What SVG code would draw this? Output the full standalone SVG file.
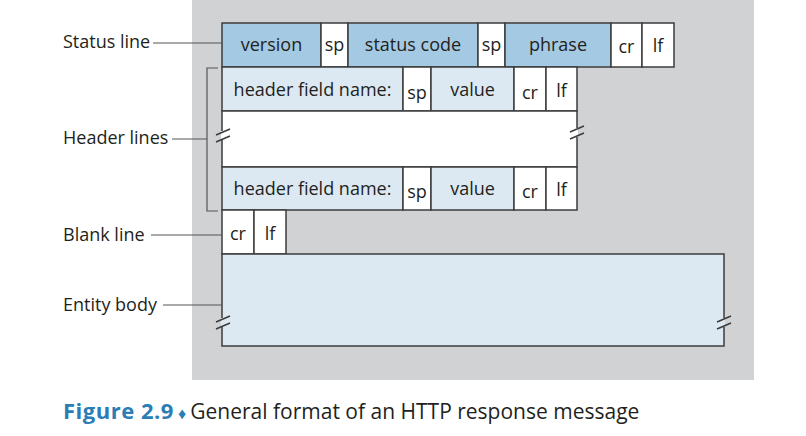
<svg xmlns="http://www.w3.org/2000/svg" width="806" height="436" viewBox="0 0 806 436">
<style>
  .cell { stroke: #3c3c3c; stroke-width: 1.5; }
  .dark { fill: #a3c9e3; }
  .light { fill: #dce9f3; }
  .white { fill: #ffffff; }
  .t { font-family: "Open Sans", "Liberation Sans", sans-serif; font-size: 18px; fill: #231f20; text-anchor: middle; }
  .lbl { font-family: "Open Sans", "Liberation Sans", sans-serif; font-size: 18px; fill: #231f20; }
  .conn { stroke: #555555; stroke-width: 1.2; fill: none; }
  .brk { stroke: #3c3c3c; stroke-width: 1.5; fill: none; }
  .cap { font-family: "Open Sans", "Liberation Sans", sans-serif; font-size: 21px; fill: #231f20; }
</style>
<rect x="0" y="0" width="806" height="436" fill="#ffffff"/>
<rect x="192" y="0" width="562" height="380" fill="#d1d2d4"/>

<g id="status-line">
  <rect class="cell dark" x="222" y="23" width="99" height="44"/>
  <rect class="cell white" x="321" y="23" width="27" height="44"/>
  <rect class="cell dark" x="348" y="23" width="130" height="44"/>
  <rect class="cell white" x="478" y="23" width="27" height="44"/>
  <rect class="cell dark" x="505" y="23" width="106" height="44"/>
  <rect class="cell white" x="611" y="23" width="31" height="44"/>
  <rect class="cell white" x="642" y="23" width="32" height="44"/>
  <text class="t" x="271.5" y="51">version</text>
  <text class="t" x="334.5" y="51">sp</text>
  <text class="t" x="413" y="51">status code</text>
  <text class="t" x="491.5" y="51">sp</text>
  <text class="t" x="558" y="51">phrase</text>
  <text class="t" x="626.5" y="53">cr</text>
  <text class="t" x="658" y="52">lf</text>
</g>

<g id="header-line-1">
  <rect class="cell light" x="222" y="67" width="181" height="44"/>
  <rect class="cell white" x="403" y="67" width="28" height="44"/>
  <rect class="cell light" x="431" y="67" width="83" height="44"/>
  <rect class="cell white" x="514" y="67" width="32" height="44"/>
  <rect class="cell white" x="546" y="67" width="31" height="44"/>
  <text class="t" x="312.5" y="96">header field name:</text>
  <text class="t" x="417" y="99">sp</text>
  <text class="t" x="472.5" y="96">value</text>
  <text class="t" x="530" y="99">cr</text>
  <text class="t" x="561.5" y="97">lf</text>
</g>

<g id="header-gap">
  <rect class="cell white" x="222" y="111" width="355" height="56"/>
</g>

<g id="header-line-2">
  <rect class="cell light" x="222" y="167" width="181" height="43"/>
  <rect class="cell white" x="403" y="167" width="28" height="43"/>
  <rect class="cell light" x="431" y="167" width="83" height="43"/>
  <rect class="cell white" x="514" y="167" width="32" height="43"/>
  <rect class="cell white" x="546" y="167" width="31" height="43"/>
  <text class="t" x="312.5" y="195">header field name:</text>
  <text class="t" x="417" y="198">sp</text>
  <text class="t" x="472.5" y="195">value</text>
  <text class="t" x="530" y="198">cr</text>
  <text class="t" x="561.5" y="196">lf</text>
</g>

<g id="blank-line">
  <rect class="cell white" x="222" y="210" width="32" height="44"/>
  <rect class="cell white" x="254" y="210" width="32" height="44"/>
  <text class="t" x="238" y="240">cr</text>
  <text class="t" x="270" y="240">lf</text>
</g>

<g id="entity-body">
  <rect class="cell light" x="222" y="254" width="502" height="92"/>
</g>

<g id="breaks">
  <line x1="222" y1="131" x2="222" y2="140" stroke="#ffffff" stroke-width="2"/>
  <line x1="577" y1="128" x2="577" y2="137" stroke="#ffffff" stroke-width="2"/>
  <line x1="222" y1="318" x2="222" y2="327" stroke="#dce9f3" stroke-width="2"/>
  <line x1="724" y1="318" x2="724" y2="327" stroke="#dce9f3" stroke-width="2"/>
  <path class="brk" d="M216,135 L230,129 M216,142 L230,136"/>
  <path class="brk" d="M570,132 L584,126 M570,139 L584,133"/>
  <path class="brk" d="M216,322 L230,316 M216,329 L230,323"/>
  <path class="brk" d="M717,322 L731,316 M717,329 L731,323"/>
</g>

<g id="connectors">
  <line class="conn" x1="153" y1="43" x2="222" y2="43"/>
  <path class="conn" d="M218,68 H207 V211 H218"/>
  <line class="conn" x1="172" y1="139" x2="207" y2="139"/>
  <line class="conn" x1="151" y1="235" x2="222" y2="235"/>
  <line class="conn" x1="163" y1="305" x2="222" y2="305"/>
</g>

<g id="labels">
  <text class="lbl" x="63" y="48">Status line</text>
  <text class="lbl" x="63" y="144">Header lines</text>
  <text class="lbl" x="63" y="241">Blank line</text>
  <text class="lbl" x="63" y="311">Entity body</text>
</g>

<g id="caption">
  <text class="cap" x="63" y="419"><tspan font-weight="bold" font-size="22" fill="#2a7db5" letter-spacing="0.5">Figure 2.9</tspan><tspan fill="#2a7db5" font-size="16"> ♦ </tspan><tspan>General format of an HTTP response message</tspan></text>
</g>
</svg>
